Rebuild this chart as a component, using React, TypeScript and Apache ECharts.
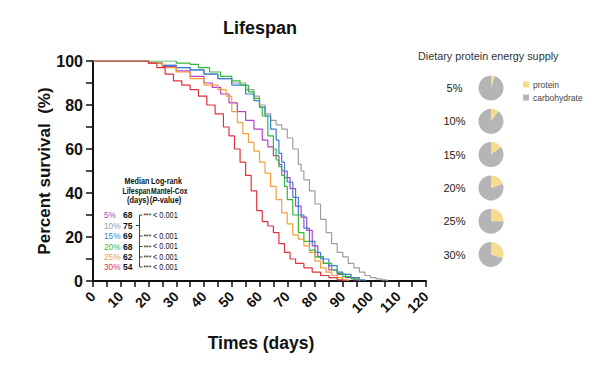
import React, { useEffect, useRef } from "react";
import * as echarts from "echarts";

const groups = ["5%", "10%", "15%", "20%", "25%", "30%"];
const groupColors = ["#b340c4", "#9e9e9e", "#3a7fd6", "#34b83a", "#f5a036", "#e2333d"];
const medians = ["68", "75", "69", "68", "62", "54"];
const pValues = ["< 0.001", "", "< 0.001", "< 0.001", "< 0.001", "< 0.001"];
const proteinShares = [5, 10, 15, 20, 25, 30];
const pieLegend = ["protein", "carbohydrate"];
const pieColors = ["#f7dc8f", "#b5b5b5"];

const surv5 = [[0,100],[15,100],[20,99],[25,97.5],[30,95.5],[35,93],[40,90],[43,88],[46,85],[49,81],[52,77],[55,73],[58,69],[61,64],[63,61],[65,57],[67,53],[68,50],[69,47],[71,42],[73,34],[75,29],[77,23],[79,16],[81,11],[83,8],[85,5],[88,3],[91,1.5],[94,0.5],[96,0]];
const surv10 = [[0,100],[15,100],[20,99],[25,98],[30,97],[35,96],[40,94],[45,92],[50,90],[55,87],[58,84],[60,80],[62,76],[64,73],[66,71],[68,69],[70,65],[72,60],[74,53],[75,50],[76,46],[78,41],[80,35],[82,28],[84,22],[86,17],[88,13],[90,11],[92,8],[94,6],[96,4],[98,2.5],[100,1.5],[102,1],[104,0.5],[106,0]];
const surv15 = [[0,100],[15,100],[20,99],[25,98],[30,97],[35,96],[40,94],[45,92],[50,89],[55,85],[58,82],[60,79],[62,75],[64,69],[66,64],[67,58],[68,54],[69,50],[70,45],[72,38],[74,30],[76,24],[78,18],[80,13],[82,10],[85,7],[88,4],[90,3],[93,1.5],[96,0.5],[98,0]];
const surv20 = [[0,100],[20,100],[30,99],[35,98.5],[38,97],[42,95],[46,93],[50,91],[53,89],[56,86],[58,83],[60,79],[61,75],[63,66],[65,60],[66,55],[67,52],[68,48],[69,43],[70,37],[72,30],[74,22],[76,18],[78,14],[80,11],[83,8],[86,5],[88,3.5],[90,2],[93,1],[96,0]];
const surv25 = [[0,100],[15,100],[20,99],[25,97],[30,95],[35,92],[40,89],[45,87],[48,84],[50,77],[52,72],[54,67],[56,63],[58,59],[60,54],[62,49],[64,43],[66,37],[68,31],[70,26],[72,21],[74,19],[76,16],[78,13],[80,9],[82,6],[84,4],[86,2.5],[88,1.5],[90,0.5],[92,0]];
const surv30 = [[0,100],[15,100],[20,99],[23,97],[26,94],[29,91],[32,89],[35,87],[38,84],[41,80],[44,76],[47,70],[49,66],[51,60],[53,54],[55,48],[57,41],[59,32],[61,27],[63,25],[65,22],[67,17],[69,13],[71,10],[73,8],[76,6],[79,4],[82,2.5],[85,1.5],[88,0.5],[90,0]];
const survivalData = [surv5, surv10, surv15, surv20, surv25, surv30];

const FONT = "'Liberation Sans', Arial, sans-serif";

export default function App() {
  const ref = useRef<HTMLDivElement>(null);
  useEffect(() => {
    if (!ref.current) return;
    const chart = echarts.init(ref.current, null, { renderer: "svg" });

    const lineSeries = groups.map((g, i) => ({
      type: "line",
      name: g,
      step: "end",
      showSymbol: false,
      symbol: "none",
      data: survivalData[i],
      lineStyle: { color: groupColors[i], width: 1.2 },
      itemStyle: { color: groupColors[i] },
      z: i === 1 ? 2 : 3,
    }));

    const pieTop = 88;
    const pieStep = 33.3;
    const pieSeries = proteinShares.map((p, i) => ({
      type: "pie",
      center: [491, pieTop + i * pieStep],
      radius: 12.5,
      startAngle: 90,
      clockwise: true,
      label: { show: false },
      labelLine: { show: false },
      silent: true,
      data: [
        { name: pieLegend[0], value: p, itemStyle: { color: pieColors[0] } },
        { name: pieLegend[1], value: 100 - p, itemStyle: { color: pieColors[1] } },
      ],
    }));

    const rowY = [215, 225.5, 236, 246.5, 257, 267];
    const texts: any[] = [];
    const hdr = { fontFamily: FONT, fontSize: 8.5, fontWeight: "bold", fill: "#111", textVerticalAlign: "middle" };
    const addT = (x: number, y: number, style: any, sx = 0.88) =>
      texts.push({ type: "text", x, y, scaleX: sx, style });
    addT(137, 181.5, { ...hdr, text: "Median", textAlign: "center" }, 0.85);
    addT(166.5, 181.5, { ...hdr, text: "Log-rank", textAlign: "center" }, 0.85);
    addT(150.5, 191, { ...hdr, text: "Lifespan", textAlign: "right" }, 0.8);
    addT(151, 191, { ...hdr, text: "Mantel-Cox", textAlign: "left" }, 0.8);
    addT(138, 200.5, { ...hdr, text: "(days)", textAlign: "center" });
    addT(165.5, 200.5, {
      ...hdr,
      textAlign: "center",
      text: "({i|P}-value)",
      rich: { i: { fontFamily: FONT, fontSize: 8.5, fontWeight: "bold", fontStyle: "italic", fill: "#111" } },
    });
    groups.forEach((g, i) => {
      addT(104, rowY[i], { text: g, fontFamily: FONT, fontSize: 9, fill: groupColors[i], textVerticalAlign: "middle" }, 0.92);
      addT(123, rowY[i], { text: medians[i], fontFamily: FONT, fontSize: 9, fontWeight: "bold", fill: "#111", textVerticalAlign: "middle" }, 0.95);
      if (pValues[i]) {
        addT(143.5, rowY[i] + 1, { text: "***", fontFamily: FONT, fontSize: 7.5, fill: "#111", textVerticalAlign: "middle" }, 0.9);
        addT(153, rowY[i], { text: pValues[i], fontFamily: FONT, fontSize: 9, fill: "#111", textVerticalAlign: "middle" }, 0.82);
        texts.push({ type: "line", shape: { x1: 139.5, y1: rowY[i], x2: 142.5, y2: rowY[i] }, style: { stroke: "#111", lineWidth: 0.8 } });
      } else {
        texts.push({ type: "line", shape: { x1: 136, y1: rowY[i], x2: 139.5, y2: rowY[i] }, style: { stroke: "#111", lineWidth: 0.8 } });
      }
    });
    texts.push({ type: "line", shape: { x1: 139.5, y1: rowY[0], x2: 139.5, y2: rowY[5] }, style: { stroke: "#111", lineWidth: 0.8 } });

    texts.push({ type: "text", x: 260, y: 28, style: { text: "Lifespan", fontFamily: FONT, fontSize: 18, fontWeight: "bold", fill: "#111", textAlign: "center", textVerticalAlign: "middle" } });
    texts.push({ type: "text", x: 44, y: 171, rotation: Math.PI / 2, style: { text: "Percent survival  (%)", fontFamily: FONT, fontSize: 17, fontWeight: "bold", fill: "#111", textAlign: "center", textVerticalAlign: "middle" } });
    texts.push({ type: "text", x: 261, y: 343, style: { text: "Times (days)", fontFamily: FONT, fontSize: 17.5, fontWeight: "bold", fill: "#111", textAlign: "center", textVerticalAlign: "middle" } });

    texts.push({ type: "text", x: 418, y: 56, style: { text: "Dietary protein energy supply", fontFamily: FONT, fontSize: 10.8, fill: "#333", textVerticalAlign: "middle" } });
    groups.forEach((g, i) => {
      texts.push({ type: "text", x: 454.5, y: pieTop + i * pieStep, style: { text: g, fontFamily: FONT, fontSize: 11, fill: "#222", textAlign: "center", textVerticalAlign: "middle" } });
    });
    pieLegend.forEach((name, i) => {
      const cy = 84.5 + i * 13;
      texts.push({ type: "rect", shape: { x: 523, y: cy - 3, width: 6, height: 6 }, style: { fill: pieColors[i] } });
      texts.push({ type: "text", x: 533, y: cy, style: { text: name, fontFamily: FONT, fontSize: 8.5, fill: "#444", textVerticalAlign: "middle" } });
    });

    chart.setOption({
      animation: false,
      backgroundColor: "#fff",
      grid: { left: 93, right: 174, top: 61, bottom: 95, containLabel: false },
      xAxis: {
        type: "value",
        min: 0,
        max: 120,
        interval: 5,
        splitLine: { show: false },
        axisLine: { onZero: false, lineStyle: { color: "#111", width: 2 } },
        axisTick: { show: true, length: 6, lineStyle: { color: "#111", width: 1.5 } },
        axisLabel: {
          formatter: (v: number) => (v % 10 === 0 ? String(v) : ""),
          rotate: 45,
          margin: 13,
          fontFamily: FONT,
          fontSize: 14,
          fontWeight: "bold",
          color: "#111",
        },
      },
      yAxis: {
        type: "value",
        min: 0,
        max: 100,
        interval: 10,
        splitLine: { show: false },
        axisLine: { show: true, lineStyle: { color: "#111", width: 2 } },
        axisTick: { show: true, length: 7, lineStyle: { color: "#111", width: 1.5 } },
        axisLabel: {
          formatter: (v: number) => (v % 20 === 0 ? String(v) : ""),
          margin: 10,
          fontFamily: FONT,
          fontSize: 16,
          fontWeight: "bold",
          color: "#111",
        },
      },
      series: [...lineSeries, ...pieSeries],
      graphic: texts,
    });
    return () => chart.dispose();
  }, []);

  return <div ref={ref} style={{ position: "fixed", left: 0, top: 0, width: 600, height: 376 }} />;
}
